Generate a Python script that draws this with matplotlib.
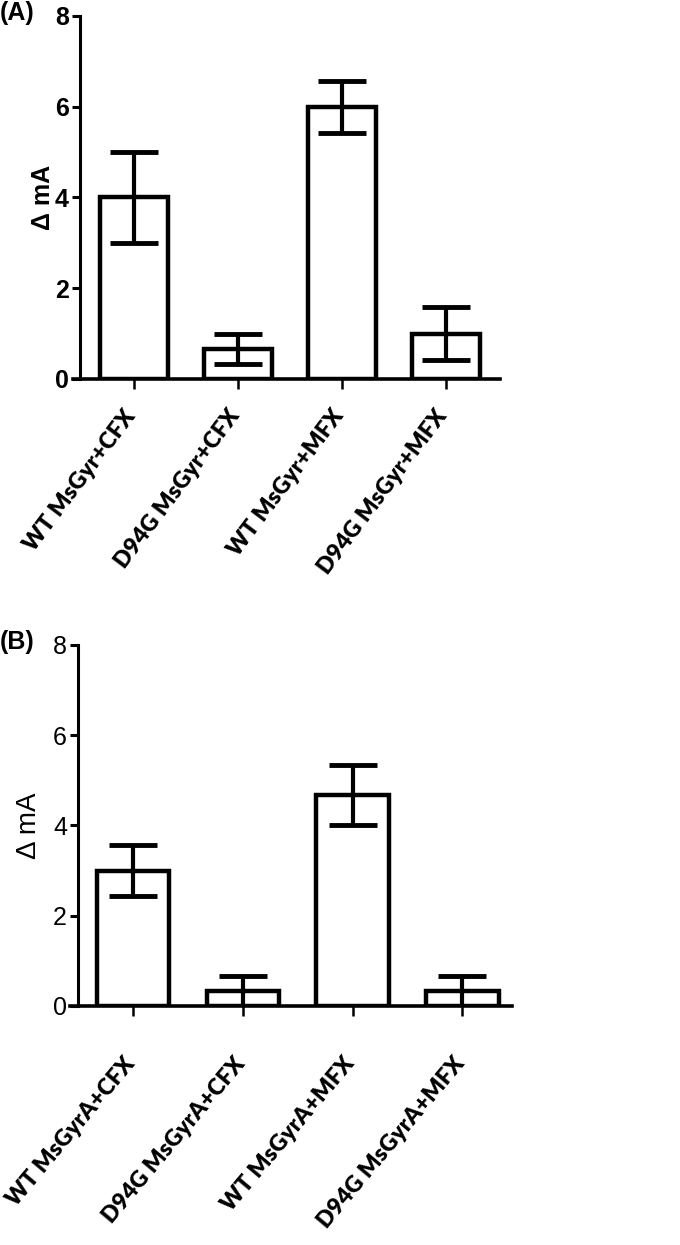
import matplotlib
matplotlib.use("Agg")
import matplotlib.pyplot as plt
from matplotlib.transforms import ScaledTranslation
import numpy as np

# panel A
labels_a = ["WT MsGyr+CFX", "D94G MsGyr+CFX", "WT MsGyr+MFX", "D94G MsGyr+MFX"]
means_a = [4.0, 0.67, 6.0, 1.0]
errs_a = [1.0, 0.33, 0.57, 0.58]

# panel B
labels_b = ["WT MsGyrA+CFX", "D94G MsGyrA+CFX", "WT MsGyrA+MFX", "D94G MsGyrA+MFX"]
means_b = [3.0, 0.33, 4.67, 0.33]
errs_b = [0.57, 0.33, 0.67, 0.33]

yticks = [0, 2, 4, 6, 8]

num_font = ["Liberation Sans Narrow", "Liberation Sans", "DejaVu Sans"]
lab_font = ["Lato", "DejaVu Sans"]


def draw_panel(ax, labels, means, errs, xlim, bold_nums, rot, lab_pad,
               lab_dx, lab_size, ylab_pad):
    x = np.arange(len(labels))
    ax.bar(x, means, width=0.66, color="white", edgecolor="black",
           linewidth=3.2, zorder=2)
    ax.errorbar(x, means, yerr=errs, fmt="none", ecolor="black",
                elinewidth=3, capsize=17, capthick=3.5, zorder=3)
    ax.set_xlim(*xlim)
    ax.set_ylim(0, 8)
    ax.set_yticks(yticks)
    ax.set_xticks(x)
    for s in ["top", "right"]:
        ax.spines[s].set_visible(False)
    ax.spines["left"].set_linewidth(2.2)
    ax.spines["bottom"].set_linewidth(2.6)
    ax.tick_params(axis="y", length=6, width=2.2, pad=2)
    ax.tick_params(axis="x", length=7, width=1.8, pad=lab_pad)
    wt = "bold" if bold_nums else "normal"
    ax.set_yticklabels([str(v) for v in yticks], family=num_font,
                       fontsize=18, fontweight=wt)
    ax.set_xticklabels(labels, rotation=rot, ha="right", va="center",
                       rotation_mode="anchor", family=lab_font,
                       fontsize=lab_size, fontweight="heavy")
    off = ScaledTranslation(lab_dx / 100, 0, ax.figure.dpi_scale_trans)
    for t in ax.get_xticklabels():
        t.set_transform(t.get_transform() + off)
    ax.set_ylabel("\u0394 mA", family=["Liberation Sans", "DejaVu Sans"],
                  fontsize=18 if bold_nums else 20, fontweight=wt,
                  labelpad=ylab_pad)
    ax.spines["bottom"].set_bounds(xlim[0] - 0.07, xlim[1])


fig = plt.figure(figsize=(6.8, 12.45), dpi=100)

ax1 = fig.add_axes([0.1176, 0.6956, 0.618, 0.2916])
draw_panel(ax1, labels_a, means_a, errs_a, (-0.52, 3.52), True,
           53, 17, -3, 16.5, 0)

ax2 = fig.add_axes([0.1147, 0.192, 0.638, 0.29])
draw_panel(ax2, labels_b, means_b, errs_b, (-0.5, 3.45), False,
           50, 32, -2, 16.5, 8)

fig.text(0.0, 0.999, "(A)", fontsize=18, fontweight="bold", va="top",
         family=["Liberation Sans", "DejaVu Sans"])
fig.text(0.0, 0.4845, "(B)", fontsize=18, fontweight="bold", va="center",
         family=["Liberation Sans", "DejaVu Sans"])

fig.savefig("out.png", dpi=100, facecolor="white")
